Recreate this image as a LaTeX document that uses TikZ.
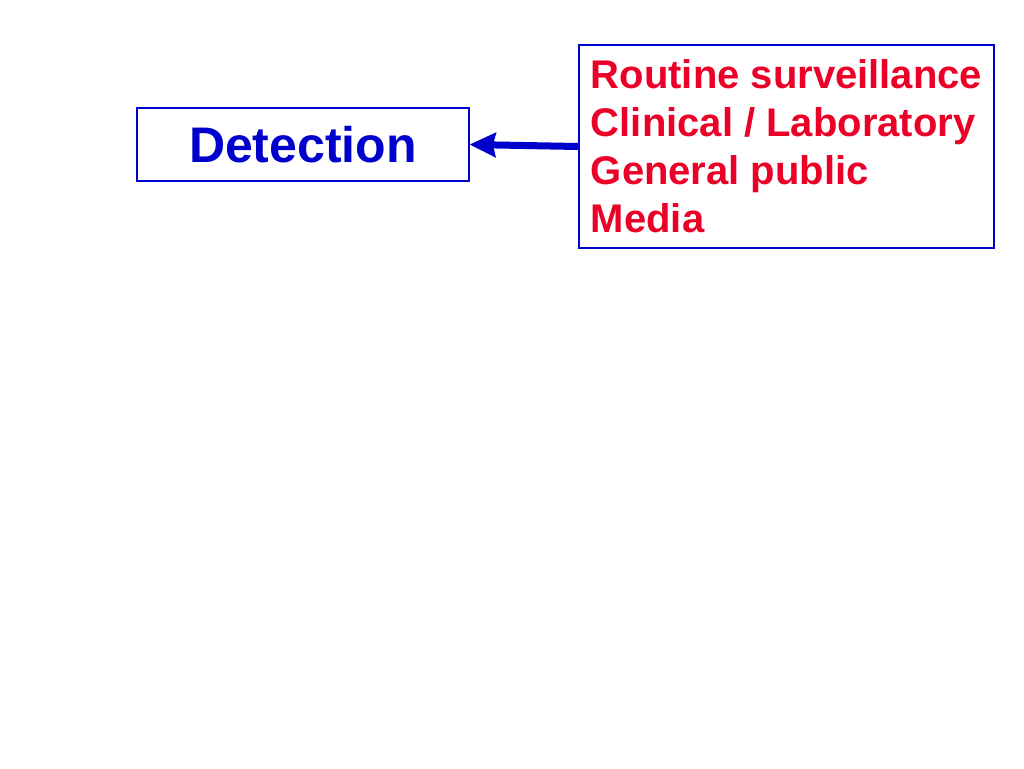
\documentclass[tikz,border=0pt]{standalone}
\usepackage{fontspec}
\setmainfont{Liberation Sans}
\usepackage{tikz}
\usetikzlibrary{arrows.meta}

\definecolor{detblue}{RGB}{0,0,204}
\definecolor{srcred}{RGB}{235,0,40}

\begin{document}
\begin{tikzpicture}[x=0.75pt,y=-0.75pt,
				det box/.style={rectangle,draw=detblue,line width=0.8pt,
					text=detblue,font=\fontsize{37.5}{45}\selectfont\bfseries,
					minimum width=249pt,minimum height=54.75pt,inner sep=0pt},
				src box/.style={rectangle,draw=detblue,line width=1.5pt,
					text=srcred,font=\fontsize{30}{36}\selectfont\bfseries,
					align=left,minimum width=311.25pt,minimum height=152.25pt,inner sep=0pt},
				flow/.style={-{Stealth[length=19.5pt,width=18pt,inset=2pt]},
					draw=detblue,line width=5.25pt}]
				
				\useasboundingbox (0,0) rectangle (1024,768);
				
				\node[det box] (det) at (303,144.5) {Detection};
				\node[src box] (src) at (786.5,146.5) {Routine surveillance\\
					Clinical / Laboratory\\
					General public\\
					Media};
				
				\draw[flow] (src.west) -- (det.east);
			\end{tikzpicture}
\end{document}
